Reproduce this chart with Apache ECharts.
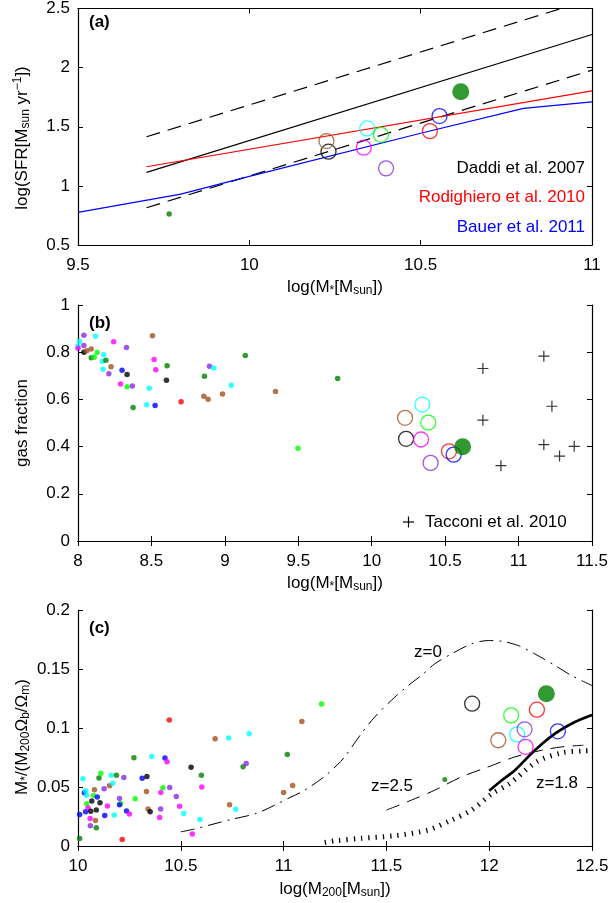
<!DOCTYPE html>
<html><head><meta charset="utf-8">
<script src="https://cdn.jsdelivr.net/npm/echarts@6/dist/echarts.min.js"></script>
<style>html,body{margin:0;padding:0;background:#fff}#c{width:612px;height:903px}</style>
</head><body><div id="c"></div>
<script>
// ---------------- DATA ----------------
// group ids of the simulated galaxies (one per colour)
const bigGroups = ['S1','S2','S3','S4','S5','S6','S7','S8','S9'];

// Panel (a): SFR vs stellar mass
const aBigX = [10.231, 10.225, 10.344, 10.384, 10.334, 10.399, 10.527, 10.555, 10.617];
const aBigY = [1.289, 1.379, 1.486, 1.432, 1.323, 1.148, 1.463, 1.590, 1.796];
const aSmallX = [9.766];
const aSmallY = [0.762];
const aDaddiX = [9.7, 11.0];
const aDaddiY = [1.114, 2.28];
const aDaddiUpX = [9.7, 10.91];
const aDaddiUpY = [1.415, 2.5];
const aDaddiLoX = [9.7, 11.0];
const aDaddiLoY = [0.815, 1.979];
const aRodX = [9.7, 11.0];
const aRodY = [1.162, 1.804];
const aBauerX = [9.5, 9.8, 10.0, 10.5, 10.8, 11.0];
const aBauerY = [0.776, 0.93, 1.08, 1.445, 1.655, 1.711];
const aLegend = ['Daddi et al. 2007', 'Rodighiero et al. 2010', 'Bauer et al. 2011'];

// Panel (b): gas fraction vs stellar mass
const bDotX = [8.04,8.12,8.01,8.00,8.00,8.04,8.04,8.06,8.09,8.09,8.11,8.13,8.175,8.166,8.19,8.17,8.225,8.21,8.243,8.29,8.30,8.334,8.33,8.334,8.37,8.375,8.468,8.486,8.525,8.507,8.518,8.53,8.607,8.602,8.702,8.857,8.886,8.861,8.895,8.925,8.984,9.043,9.139,9.345,9.498,9.768];
const bDotY = [0.872,0.868,0.845,0.826,0.817,0.828,0.800,0.806,0.814,0.776,0.779,0.799,0.789,0.762,0.766,0.728,0.738,0.709,0.844,0.665,0.723,0.705,0.820,0.654,0.657,0.566,0.577,0.647,0.574,0.870,0.769,0.726,0.743,0.681,0.590,0.613,0.601,0.698,0.740,0.733,0.623,0.660,0.786,0.633,0.393,0.689];
const bDotG = ['S6','S3','S3','S3','S5','S6','S1','S2','S2','S9','S4','S4','S3','S3','S9','S3','S2','S6','S5','S5','S8','S1','S6','S4','S6','S9','S3','S3','S8','S2','S5','S5','S9','S1','S7','S2','S2','S9','S6','S3','S2','S3','S9','S2','S4','S9'];
const bBigX = [10.234, 10.227, 10.345, 10.385, 10.336, 10.401, 10.526, 10.558, 10.619];
const bBigY = [0.433, 0.522, 0.578, 0.502, 0.430, 0.331, 0.380, 0.366, 0.399];
const bTacX = [10.757, 11.172, 11.227, 10.757, 11.172, 11.379, 11.279, 10.88];
const bTacY = [0.731, 0.783, 0.571, 0.512, 0.408, 0.401, 0.360, 0.319];
const bLegend = 'Tacconi et al. 2010';

// Panel (c): baryon-normalised stellar mass vs halo mass
const cDotX = [10.008,10.008,10.024,10.031,10.037,10.041,10.037,10.042,10.049,10.059,10.060,10.062,10.067,10.076,10.080,10.085,10.089,10.089,10.094,10.107,10.102,10.111,10.127,10.130,10.143,10.154,10.161,10.169,10.176,10.187,10.202,10.207,10.202,10.223,10.215,10.236,10.250,10.272,10.278,10.312,10.335,10.333,10.341,10.351,10.359,10.397,10.403,10.402,10.413,10.423,10.433,10.444,10.446,10.478,10.494,10.514,10.550,10.556,10.593,10.600,10.602,10.667,10.733,10.737,10.767,10.803,10.818,10.833,11.000,11.018,11.044,11.089,11.185];
const cDotY = [0.0064,0.0266,0.0569,0.0451,0.0468,0.0431,0.0291,0.0359,0.0322,0.0232,0.0171,0.0294,0.0381,0.0429,0.0476,0.0216,0.0154,0.0305,0.0415,0.0367,0.0577,0.0616,0.0485,0.0258,0.0339,0.0510,0.0599,0.0532,0.0263,0.0599,0.0403,0.0361,0.0350,0.0580,0.0056,0.0297,0.0272,0.0748,0.0401,0.0574,0.0588,0.0462,0.0314,0.0291,0.0759,0.0241,0.0454,0.0314,0.0493,0.0745,0.0714,0.1067,0.0496,0.0420,0.0336,0.0275,0.0667,0.0101,0.0224,0.0599,0.0501,0.0908,0.0916,0.0350,0.0311,0.0672,0.0700,0.0952,0.0454,0.0776,0.0513,0.1056,0.1204];
const cDotG = ['S9','S8','S3','S8','S3','S3','S8','S4','S5','S5','S6','S1','S1','S4','S2','S2','S9','S1','S8','S1','S9','S4','S6','S8','S5','S2','S3','S3','S3','S9','S6','S4','S8','S6','S7','S8','S5','S9','S4','S8','S1','S2','S2','S1','S3','S5','S5','S6','S4','S8','S5','S7','S6','S6','S5','S3','S1','S5','S3','S9','S5','S2','S3','S2','S3','S9','S6','S3','S2','S9','S2','S2','S4'];
const cBigX = [11.917, 12.044, 12.136, 12.107, 12.177, 12.172, 12.232, 12.334, 12.278];
const cBigY = [0.1206, 0.0896, 0.0946, 0.1107, 0.0840, 0.0989, 0.1155, 0.0972, 0.1290];
const cSmallX = [11.784];
const cSmallY = [0.0563];
const cZ0X = [10.5, 10.556, 10.743, 10.873, 11.036, 11.10, 11.198, 11.26, 11.297, 11.378, 11.443, 11.524, 11.606, 11.67, 11.735, 11.817, 11.914, 11.995, 12.06, 12.141, 12.222, 12.32, 12.40, 12.5];
const cZ0Y = [0.012, 0.014, 0.0224, 0.028, 0.0415, 0.047, 0.0588, 0.0686, 0.0755, 0.0952, 0.1093, 0.1234, 0.136, 0.1445, 0.1544, 0.1628, 0.1713, 0.1741, 0.1735, 0.1699, 0.1628, 0.153, 0.1445, 0.136];
const cZ25X = [11.5, 11.622, 11.735, 11.865, 11.995, 12.125, 12.255, 12.352, 12.458];
const cZ25Y = [0.0304, 0.0389, 0.0473, 0.0586, 0.067, 0.0755, 0.0811, 0.084, 0.0854];
const cZ18X = [11.2, 11.256, 11.378, 11.54, 11.703, 11.817, 11.914, 12.011, 12.1, 12.23, 12.352, 12.458, 12.5];
const cZ18Y = [0.003, 0.0045, 0.0065, 0.0087, 0.0135, 0.022, 0.0304, 0.044, 0.053, 0.0713, 0.0789, 0.0806, 0.081];
const cSolidX = [12.0, 12.06, 12.125, 12.222, 12.32, 12.417, 12.5];
const cSolidY = [0.0468, 0.0555, 0.0642, 0.0811, 0.0952, 0.1051, 0.1110];
const cCurveLabels = ['z=0', 'z=2.5', 'z=1.8'];

// axis ranges [min, max, interval]
const aXAxis = [9.5, 11, 0.5], aYAxis = [0.5, 2.5, 0.5];
const bXAxis = [8, 11.5, 0.5], bYAxis = [0, 1, 0.2];
const cXAxis = [10, 12.5, 0.5], cYAxis = [0, 0.2, 0.05];

// ---------------- STYLE ----------------
const palette = {S1:'#000000', S2:'#a0501e', S3:'#00ffff', S4:'#00ff00', S5:'#ff00ff', S6:'#8a2be2', S7:'#ff0000', S8:'#0000ff', S9:'#007f00'};
const FONT = "'Liberation Sans', Arial, Helvetica, sans-serif";
const FS = 17;
const grids = [
  {left: 78, top: 8, width: 514, height: 237},
  {left: 78, top: 305, width: 514, height: 236},
  {left: 78, top: 610, width: 514, height: 236}
];

const zip = (xs, ys) => xs.map((x, i) => [x, ys[i]]);

function axesFor(gi, xr, yr) {
  const line = {show: true, lineStyle: {color: '#000', width: 1.2}};
  const tick = {show: true, inside: true, length: 5, lineStyle: {color: '#000', width: 1}};
  const lbl = {color: '#000', fontFamily: FONT, fontSize: FS};
  const base = (r) => ({type: 'value', min: r[0], max: r[1], interval: r[2], splitLine: {show: false}, axisLine: line, axisTick: tick});
  return {
    x: [
      Object.assign(base(xr), {gridIndex: gi, position: 'bottom', axisLabel: Object.assign({margin: 12}, lbl)}),
      Object.assign(base(xr), {gridIndex: gi, position: 'top', axisLabel: {show: false}})
    ],
    y: [
      Object.assign(base(yr), {gridIndex: gi, position: 'left', axisLabel: Object.assign({margin: 8}, lbl)}),
      Object.assign(base(yr), {gridIndex: gi, position: 'right', axisLabel: {show: false}})
    ]
  };
}
const A = axesFor(0, aXAxis, aYAxis), B = axesFor(1, bXAxis, bYAxis), C = axesFor(2, cXAxis, cYAxis);
const xAxis = [...A.x, ...B.x, ...C.x];   // indices: a:0,1  b:2,3  c:4,5
const yAxis = [...A.y, ...B.y, ...C.y];

function lineSeries(ai, xs, ys, style, smooth) {
  return {type: 'line', xAxisIndex: ai * 2, yAxisIndex: ai * 2, data: zip(xs, ys), symbol: 'none',
    showSymbol: false, clip: true, smooth: smooth || false, lineStyle: style, z: 2, silent: true, animation: false};
}
function dotSeries(ai, xs, ys, gs, size) {
  return {type: 'scatter', xAxisIndex: ai * 2, yAxisIndex: ai * 2, symbolSize: size, z: 4, animation: false,
    data: xs.map((x, i) => ({value: [x, ys[i]], itemStyle: {color: palette[gs[i]]}}))};
}
function bigSeries(ai, xs, ys) {
  return {type: 'scatter', xAxisIndex: ai * 2, yAxisIndex: ai * 2, z: 5, animation: false,
    data: xs.map((x, i) => {
      const g = bigGroups[i];
      const filled = g === 'S9';
      return {value: [x, ys[i]], symbolSize: filled ? 17 : 15,
        itemStyle: filled ? {color: palette[g], borderWidth: 0}
                          : {color: 'rgba(0,0,0,0)', borderColor: palette[g], borderWidth: 1.3}};
    })};
}

const series = [
  // (a)
  lineSeries(0, aDaddiUpX, aDaddiUpY, {color: '#000', width: 1.2, type: [14, 8]}),
  lineSeries(0, aDaddiLoX, aDaddiLoY, {color: '#000', width: 1.2, type: [14, 8]}),
  lineSeries(0, aDaddiX, aDaddiY, {color: '#000', width: 1.2}),
  lineSeries(0, aRodX, aRodY, {color: '#ff0000', width: 1.2}),
  lineSeries(0, aBauerX, aBauerY, {color: '#0000ff', width: 1.2}),
  dotSeries(0, aSmallX, aSmallY, ['S9'], 5.5),
  bigSeries(0, aBigX, aBigY),
  // (b)
  dotSeries(1, bDotX, bDotY, bDotG, 5.5),
  bigSeries(1, bBigX, bBigY),
  {type: 'scatter', xAxisIndex: 2, yAxisIndex: 2, symbol: 'path://M5,0L5,10M0,5L10,5', symbolSize: 11,
   itemStyle: {color: 'rgba(0,0,0,0)', borderColor: '#000', borderWidth: 1.2}, data: zip(bTacX, bTacY), z: 4, animation: false},
  // (c)
  lineSeries(2, cZ0X, cZ0Y, {color: '#000', width: 1, type: [14, 6, 2, 6]}, 0.3),
  lineSeries(2, cZ25X, cZ25Y, {color: '#000', width: 1, type: [14, 8]}, 0.3),
  lineSeries(2, cZ18X, cZ18Y, {color: '#000', width: 5, type: [1.3, 6], cap: 'butt'}, 0.3),
  lineSeries(2, cSolidX, cSolidY, {color: '#000', width: 2.6}, 0.3),
  dotSeries(2, cDotX, cDotY, cDotG, 5.5),
  dotSeries(2, cSmallX, cSmallY, ['S9'], 5),
  bigSeries(2, cBigX, cBigY)
];

// ---------------- TEXT ----------------
const rich = {
  n: {fontSize: FS, fontFamily: FONT, lineHeight: 20, fill: '#000'},
  s: {fontSize: 12, fontFamily: FONT, lineHeight: 8, verticalAlign: 'bottom', fill: '#000'},
  p: {fontSize: 12, fontFamily: FONT, lineHeight: 8, verticalAlign: 'top', fill: '#000'}
};
function rtext(x, y, text, rot) {
  return {type: 'text', x: x, y: y, rotation: rot || 0, z: 10, silent: true,
    style: {text: text, rich: rich, align: 'center', verticalAlign: 'middle', fill: '#000', font: FS + 'px ' + FONT}};
}
function ptext(x, y, text, color, align, bold) {
  return {type: 'text', x: x, y: y, z: 10, silent: true,
    style: {text: text, fill: color, align: align, verticalAlign: 'middle', font: (bold ? 'bold ' : '') + FS + 'px ' + FONT}};
}
const mstar = '{n|log(M}{s|*}{n|[M}{s|sun}{n|])}';
const graphic = [
  // x-axis titles
  rtext(335, 287, mstar),
  rtext(335, 583, mstar),
  rtext(335, 889, '{n|log(M}{s|200}{n|[M}{s|sun}{n|])}'),
  // y-axis titles
  rtext(22, 138, '{n|log(SFR[M}{s|sun}{n| yr}{p|−1}{n|])}', Math.PI / 2),
  rtext(22, 423, '{n|gas fraction}', Math.PI / 2),
  rtext(22, 737, '{n|M}{s|*}{n|/(M}{s|200}{n|Ω}{s|b}{n|/Ω}{s|m}{n|)}', Math.PI / 2),
  // panel labels
  ptext(89, 22, '(a)', '#000', 'left', true),
  ptext(89, 323, '(b)', '#000', 'left', true),
  ptext(89, 628, '(c)', '#000', 'left', true),
  // panel (a) legend
  ptext(585, 168, aLegend[0], '#000', 'right'),
  ptext(585, 197, aLegend[1], '#ff0000', 'right'),
  ptext(585, 227, aLegend[2], '#0000ff', 'right'),
  // panel (b) legend
  {type: 'line', shape: {x1: 403, y1: 522, x2: 414, y2: 522}, style: {stroke: '#000', lineWidth: 1.2}, z: 10},
  {type: 'line', shape: {x1: 408.5, y1: 516.5, x2: 408.5, y2: 527.5}, style: {stroke: '#000', lineWidth: 1.2}, z: 10},
  ptext(425, 522, bLegend, '#000', 'left'),
  // panel (c) curve labels
  ptext(428, 652, cCurveLabels[0], '#000', 'center'),
  ptext(392, 786, cCurveLabels[1], '#000', 'center'),
  ptext(557, 783, cCurveLabels[2], '#000', 'center')
];

const chart = echarts.init(document.getElementById('c'), null, {renderer: 'canvas'});
chart.setOption({
  animation: false,
  backgroundColor: '#fff',
  grid: grids,
  xAxis: xAxis,
  yAxis: yAxis,
  series: series,
  graphic: graphic
});
</script>
</body></html>
